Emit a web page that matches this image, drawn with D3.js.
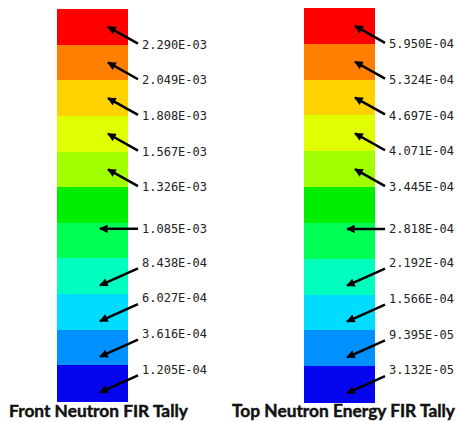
<!DOCTYPE html>
<html><head><meta charset="utf-8">
<script src="https://cdn.jsdelivr.net/npm/d3@7"></script>
<style>html,body{margin:0;padding:0;background:#fff;}</style>
</head><body>
<svg id="chart" width="456" height="422"></svg>
<script>
// ---- data ----
const bandColors = ["#ff0000","#ff8000","#ffd200","#e0ff00","#a0ff00","#00ee00","#00ff55","#00ffbe","#00dcff","#0090ff","#0505f0"];
const leftLabels  = ["2.290E-03","2.049E-03","1.808E-03","1.567E-03","1.326E-03","1.085E-03","8.438E-04","6.027E-04","3.616E-04","1.205E-04"];
const rightLabels = ["5.950E-04","5.324E-04","4.697E-04","4.071E-04","3.445E-04","2.818E-04","2.192E-04","1.566E-04","9.395E-05","3.132E-05"];
const labelBand   = [0,1,2,3,4,6,7,8,9,10];           // band each label's arrow points to
const labelDir    = ["up","up","up","up","up","flat","down","down","down","down"];
const titles      = ["Front Neutron FIR Tally","Top Neutron Energy FIR Tally"];

const svg = d3.select("#chart");
const defs = svg.append("defs");
defs.append("marker").attr("id","ah").attr("viewBox","0 0 10 10")
  .attr("refX",9).attr("refY",5).attr("markerWidth",3.8).attr("markerHeight",3.4)
  .attr("markerUnits","strokeWidth").attr("orient","auto")
  .append("path").attr("d","M0,0 L10,5 L0,10 Z").attr("fill","#000");

const panels = [
  {labels:leftLabels,  x0:57,  top:9, bottom:401, title:titles[0], titleW:179, titleCx:98.5},
  {labels:rightLabels, x0:304, top:8, bottom:402, title:titles[1], titleW:223, titleCx:343.5}
];
const barW = 71;

panels.forEach(p => {
  const g = svg.append("g");
  const y = d3.scaleBand().domain(d3.range(bandColors.length)).range([p.top, p.bottom]).paddingInner(0).paddingOuter(0);
  const bw = y.bandwidth();
  g.selectAll("rect.band").data(bandColors).join("rect")
    .attr("x", p.x0).attr("y",(d,i)=>y(i)).attr("width",barW).attr("height",bw+0.5)
    .attr("fill",d=>d).attr("shape-rendering","crispEdges");

  const items = p.labels.map((t,i)=>{
    const b = labelBand[i], dir = labelDir[i];
    let ly, ty, tipX, tipY;
    if (dir==="up")   { ly = y(b)+bw; ty = ly-1; tipX = p.x0+51; tipY = y(b)+bw/2; }
    else if (dir==="flat") { ly = y(b)+6; ty = ly; tipX = p.x0+43; tipY = ly; }
    else { ly = y(b)+4; ty = y(b)+10; tipX = p.x0+43; tipY = y(b)+27; }
    return {t, ly, ty, tipX, tipY};
  });
  g.selectAll("line.arrow").data(items).join("line")
    .attr("x1",p.x0+81).attr("y1",d=>d.ty).attr("x2",d=>d.tipX).attr("y2",d=>d.tipY)
    .attr("stroke","#000").attr("stroke-width",2.5).attr("marker-end","url(#ah)");
  g.selectAll("text.lab").data(items).join("text")
    .attr("x",p.x0+85).attr("y",d=>d.ly).attr("dy","0.35em")
    .attr("font-family","'DejaVu Sans Mono', monospace").attr("font-size",12)
    .attr("fill","#222").text(d=>d.t);

  const tt = svg.append("text").attr("x",p.titleCx).attr("y",417).attr("text-anchor","middle")
    .attr("font-family","Lato, 'Open Sans', sans-serif").attr("font-weight","bold").attr("font-size",16)
    .attr("fill","#111").attr("stroke","#111").attr("stroke-width",0.45).text(p.title);
  const w = tt.node().getComputedTextLength();
  tt.attr("font-size", 16*p.titleW/w);
});
</script>
</body></html>
